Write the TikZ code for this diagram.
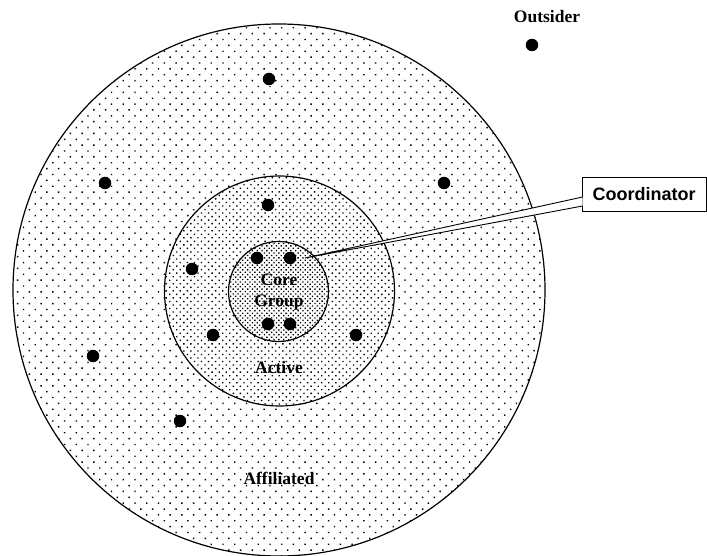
\documentclass[tikz,border=0pt]{standalone}
\usepackage{fontspec}
\setmainfont{Liberation Serif}
\newfontfamily\boxfont{Liberation Sans}
\usetikzlibrary{patterns.meta,calc}
\tikzset{
  ring/.style={circle, draw, line width=1.2pt, inner sep=0pt, outer sep=0pt},
  member/.style={circle, fill=black, inner sep=0pt, minimum size=12.5pt},
  tag/.style={font=\fontsize{17.5}{21}\selectfont\bfseries, inner sep=1pt},
  callbox/.style={draw, line width=0.9pt, fill=white, minimum width=124pt, minimum height=34pt, font=\boxfont\fontsize{18}{21}\selectfont\bfseries}
}
\begin{document}
\begin{tikzpicture}[x=1pt,y=-1pt]
\useasboundingbox (0,0) rectangle (707,556);
% the three rings
\node[ring, minimum size=532pt, pattern={Dots[distance=8.3pt,angle=45,radius=1pt]}] (affiliated) at (279,290) {};
\node[ring, minimum size=230pt, preaction={fill=white}, pattern={Dots[distance=5pt,angle=45,radius=0.95pt]}] (active) at (279.5,291) {};
\node[ring, minimum size=100pt, preaction={fill=white}, pattern={Dots[distance=3.4pt,angle=45,radius=0.95pt]}] (core) at (278.5,291.5) {};
% labels
\node[tag] (outsiderlabel) at (547,17) {Outsider};
\node[tag, align=center] (corelabel) at (279,292) {Core\\Group};
\node[tag] (activelabel) at (279,368) {Active};
\node[tag] (affiliatedlabel) at (279,478) {Affiliated};
% members
\node[member] (outsider) at (532,45) {};
\foreach \p [count=\i] in {(269,79),(105,183),(444,183),(93,356),(180,421)}
  \node[member] (aff\i) at \p {};
\foreach \p [count=\i] in {(268,205),(192,269),(213,335),(356,335)}
  \node[member] (act\i) at \p {};
\foreach \p [count=\i] in {(257,258),(290,258),(268,324),(290,324)}
  \node[member] (core\i) at \p {};
% callout
\node[callbox] (coord) at (644,194) {Coordinator};
\coordinate (tip) at (305,258);
\draw[line width=0.9pt, fill=white] ($(coord.west)+(1,3)$) -- (tip) -- ($(coord.west)+(1,12)$);
\end{tikzpicture}
\end{document}
